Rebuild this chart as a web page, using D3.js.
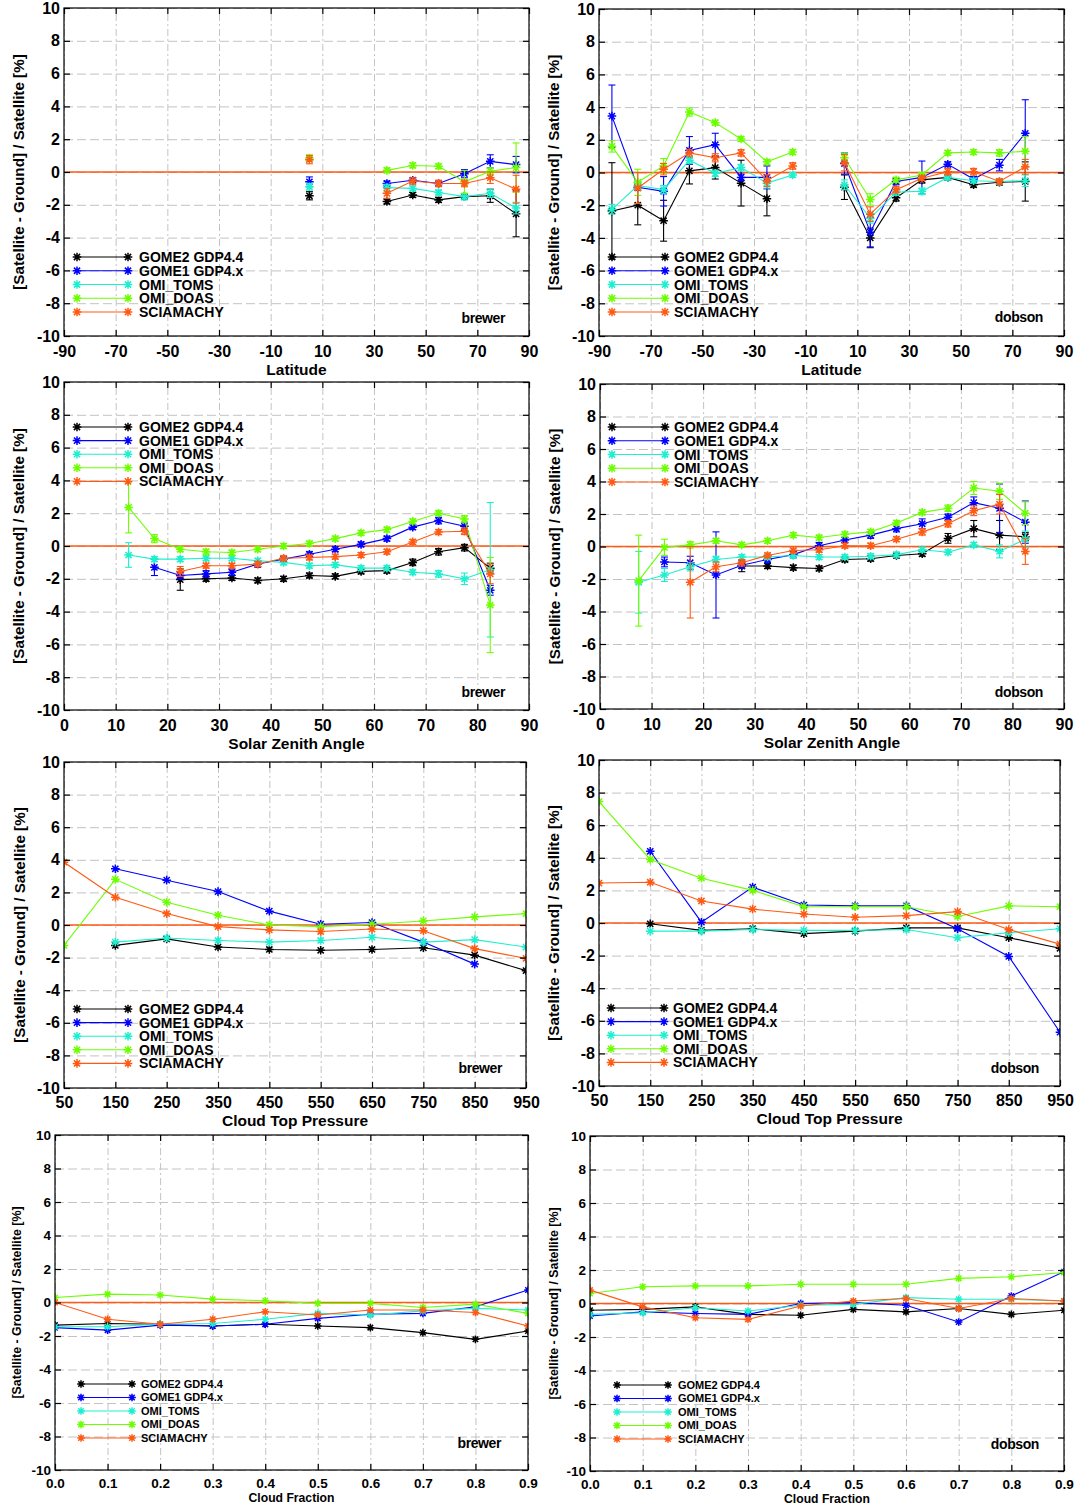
<!DOCTYPE html>
<html><head><meta charset="utf-8">
<script src="https://cdn.jsdelivr.net/npm/d3@7"></script>
<style>
body{margin:0;background:#fff}
svg{display:block}
text{font-family:"Liberation Sans",Arial,Helvetica,sans-serif;font-weight:bold;fill:#000}
</style>
</head><body>
<svg id="chart" width="1078" height="1507"></svg>
<script>
const _ = null;

const seriesNames = ["GOME2 GDP4.4", "GOME1 GDP4.x", "OMI_TOMS", "OMI_DOAS", "SCIAMACHY"];
const seriesColors = ["#000000", "#0000ff", "#1ef0cf", "#6cff00", "#ff5a14"];

const yTicks = [-10, -8, -6, -4, -2, 0, 2, 4, 6, 8, 10];

// ---------- Latitude ----------
const latBins = [-85, -75, -65, -55, -45, -35, -25, -15, -5, 5, 15, 25, 35, 45, 55, 65, 75, 85];
const latTicks = [-90, -70, -50, -30, -10, 10, 30, 50, 70, 90];

// brewer vs latitude
const brLat_GOME2 = [_,_,_,_,_,_,_,_,_,-1.45,_,_,-1.8,-1.4,-1.7,-1.5,-1.45,-2.55];
const brLat_GOME1 = [_,_,_,_,_,_,_,_,_,-0.6,_,_,-0.7,-0.5,-0.7,-0.1,0.65,0.45];
const brLat_TOMS  = [_,_,_,_,_,_,_,_,_,-0.9,_,_,-0.95,-1.0,-1.25,-1.5,-1.3,-2.2];
const brLat_DOAS  = [_,_,_,_,_,_,_,_,_,0.85,_,_,0.1,0.4,0.35,-0.6,0.05,0.27];
const brLat_SCIA  = [_,_,_,_,_,_,_,_,_,0.75,_,_,-1.3,-0.55,-0.7,-0.7,-0.35,-1.05];
const brLat_GOME2_err = [_,_,_,_,_,_,_,_,_,0.25,_,_,0.15,0.15,0.15,0.15,0.4,1.4];
const brLat_GOME1_err = [_,_,_,_,_,_,_,_,_,0.3,_,_,0.15,0.15,0.15,0.25,0.4,0.5];
const brLat_TOMS_err  = [_,_,_,_,_,_,_,_,_,0.2,_,_,0.2,0.15,0.15,0.2,0.25,0.35];
const brLat_DOAS_err  = [_,_,_,_,_,_,_,_,_,0.2,_,_,0.15,0.15,0.15,0.7,0.2,1.5];
const brLat_SCIA_err  = [_,_,_,_,_,_,_,_,_,0.25,_,_,0.3,0.2,0.2,0.2,0.35,0.85];

// dobson vs latitude
const dbLat_GOME2 = [-2.35,-2.0,-2.95,0.1,0.3,-0.65,-1.6,_,_,-0.9,-4.0,-1.55,-0.45,-0.3,-0.75,-0.6,-0.55,_];
const dbLat_GOME1 = [3.45,-0.9,-1.15,1.35,1.7,-0.3,-0.3,_,_,0.55,-3.65,-0.55,-0.3,0.5,-0.4,0.45,2.4,_];
const dbLat_TOMS  = [-2.25,-0.8,-1.05,0.75,-0.05,0.3,-0.65,-0.15,_,-0.75,-2.8,-1.2,-1.15,-0.3,-0.5,-0.55,-0.5,_];
const dbLat_DOAS  = [1.6,-0.6,0.4,3.7,3.05,2.05,0.65,1.25,_,0.9,-1.65,-0.45,-0.15,1.2,1.25,1.2,1.3,_];
const dbLat_SCIA  = [_,-0.95,0.2,1.2,0.9,1.2,-0.5,0.4,_,0.6,-2.55,-1.05,-0.35,0.05,0.05,-0.55,0.35,_];
const dbLat_GOME2_err = [2.95,1.2,1.25,0.8,0.7,1.4,1.05,_,_,0.75,0.6,0.2,0.2,0.15,0.15,0.15,1.2,_];
const dbLat_GOME1_err = [1.9,0.2,0.9,0.85,0.7,0.2,0.7,_,_,0.65,0.9,0.2,1.0,0.15,0.15,0.35,2.05,_];
const dbLat_TOMS_err  = [0.3,0.25,0.25,0.2,0.2,0.2,0.3,0.15,_,0.3,0.3,0.2,0.2,0.15,0.15,0.15,0.35,_];
const dbLat_DOAS_err  = [0.35,0.8,0.45,0.25,0.15,0.15,0.15,0.15,_,0.3,0.35,0.15,0.15,0.15,0.15,0.2,0.9,_];
const dbLat_SCIA_err  = [_,0.95,0.35,0.2,0.25,0.2,0.35,0.2,_,0.5,0.45,0.2,0.15,0.2,0.2,0.15,0.45,_];

// ---------- Solar zenith angle ----------
const szaBins = [7.5, 12.5, 17.5, 22.5, 27.5, 32.5, 37.5, 42.5, 47.5, 52.5, 57.5, 62.5, 67.5, 72.5, 77.5, 82.5];
const szaTicks = [0, 10, 20, 30, 40, 50, 60, 70, 80, 90];

const brSza_GOME2 = [_,_,_,-2.05,-2.0,-1.95,-2.1,-2.0,-1.8,-1.85,-1.55,-1.5,-1.0,-0.35,-0.1,-1.35];
const brSza_GOME1 = [_,_,-1.3,-1.8,-1.7,-1.6,-1.1,-0.8,-0.5,-0.2,0.1,0.45,1.15,1.55,1.2,-2.7];
const brSza_TOMS  = [_,-0.55,-0.8,-0.8,-0.75,-0.75,-0.9,-1.0,-1.2,-1.15,-1.35,-1.35,-1.6,-1.7,-2.0,-1.45];
const brSza_DOAS  = [_,2.35,0.45,-0.2,-0.35,-0.4,-0.2,0.0,0.15,0.45,0.8,1.0,1.5,2.0,1.65,-3.6];
const brSza_SCIA  = [_,_,_,-1.55,-1.2,-1.2,-1.1,-0.75,-0.7,-0.65,-0.55,-0.35,0.25,0.85,0.9,-1.7];
const brSza_GOME2_err = [_,_,_,0.65,0.15,0.15,0.15,0.15,0.15,0.15,0.15,0.15,0.2,0.2,0.2,0.3];
const brSza_GOME1_err = [_,_,0.5,0.2,0.2,0.2,0.2,0.15,0.15,0.15,0.15,0.15,0.15,0.2,0.25,0.3];
const brSza_TOMS_err  = [_,0.75,0.15,0.15,0.15,0.15,0.15,0.15,0.15,0.15,0.15,0.15,0.15,0.2,0.35,4.1];
const brSza_DOAS_err  = [_,1.55,0.25,0.15,0.15,0.15,0.15,0.15,0.15,0.15,0.15,0.15,0.15,0.15,0.2,2.9];
const brSza_SCIA_err  = [_,_,_,0.3,0.15,0.15,0.15,0.15,0.15,0.15,0.15,0.15,0.15,0.15,0.2,0.6];

const dbSza_GOME2 = [_,_,_,_,-1.2,-1.2,-1.3,-1.35,-0.8,-0.75,-0.55,-0.45,0.5,1.1,0.7,0.6];
const dbSza_GOME1 = [_,-0.95,-1.0,-1.75,-1.15,-0.8,-0.5,0.05,0.4,0.7,1.1,1.4,1.8,2.7,2.35,1.5];
const dbSza_TOMS  = [-2.2,-1.75,-1.25,-0.8,-0.65,-0.65,-0.55,-0.65,-0.65,-0.6,-0.5,-0.2,-0.35,0.1,-0.3,0.45];
const dbSza_DOAS  = [-2.1,-0.05,0.1,0.35,0.1,0.35,0.7,0.55,0.75,0.9,1.45,2.1,2.35,3.6,3.4,2.05];
const dbSza_SCIA  = [_,_,-2.2,-1.25,-1.0,-0.55,-0.25,-0.2,0.05,0.05,0.45,0.9,1.4,2.2,2.6,-0.3];
const dbSza_GOME2_err = [_,_,_,_,0.35,0.15,0.15,0.15,0.15,0.15,0.15,0.15,0.3,0.5,0.9,0.25];
const dbSza_GOME1_err = [_,0.3,0.4,2.65,0.2,0.2,0.2,0.2,0.15,0.2,0.2,0.3,0.2,0.35,1.5,1.3];
const dbSza_TOMS_err  = [1.9,0.4,0.25,0.2,0.15,0.15,0.15,0.15,0.15,0.15,0.15,0.15,0.15,0.15,0.4,0.5];
const dbSza_DOAS_err  = [2.8,0.5,0.2,0.15,0.15,0.15,0.15,0.15,0.15,0.15,0.15,0.15,0.2,0.4,0.5,0.7];
const dbSza_SCIA_err  = [_,_,2.2,0.3,0.2,0.15,0.15,0.15,0.15,0.15,0.15,0.2,0.2,0.3,0.6,0.8];

// ---------- Cloud top pressure ----------
const ctpBins = [50, 150, 250, 350, 450, 550, 650, 750, 850, 950];
const ctpTicks = [50, 150, 250, 350, 450, 550, 650, 750, 850, 950];

const brCtp_GOME2 = [_,-1.25,-0.85,-1.35,-1.5,-1.55,-1.5,-1.4,-1.85,-2.8];
const brCtp_GOME1 = [_,3.45,2.75,2.05,0.85,0.05,0.15,-1.05,-2.4,_];
const brCtp_TOMS  = [_,-1.05,-0.8,-0.95,-1.05,-0.95,-0.75,-1.05,-0.9,-1.35];
const brCtp_DOAS  = [-1.25,2.8,1.4,0.6,0.0,-0.1,0.05,0.25,0.5,0.7];
const brCtp_SCIA  = [3.85,1.7,0.7,-0.1,-0.3,-0.4,-0.25,-0.35,-1.45,-2.05];

const dbCtp_GOME2 = [_,-0.05,-0.45,-0.35,-0.65,-0.5,-0.3,-0.3,-0.9,-1.55];
const dbCtp_GOME1 = [_,4.4,0.05,2.2,1.1,1.05,1.05,-0.35,-2.05,-6.7];
const dbCtp_TOMS  = [_,-0.5,-0.5,-0.4,-0.45,-0.45,-0.4,-0.9,-0.6,-0.35];
const dbCtp_DOAS  = [7.45,3.9,2.75,2.0,1.0,1.0,1.0,0.4,1.05,1.0];
const dbCtp_SCIA  = [2.45,2.5,1.35,0.85,0.55,0.35,0.45,0.7,-0.4,-1.3];

// ---------- Cloud fraction ----------
const cfBins = [0.0, 0.1, 0.2, 0.3, 0.4, 0.5, 0.6, 0.7, 0.8, 0.9];
const cfTicks = [0.0, 0.1, 0.2, 0.3, 0.4, 0.5, 0.6, 0.7, 0.8, 0.9];

const brCf_GOME2 = [-1.35,-1.25,-1.3,-1.4,-1.3,-1.4,-1.5,-1.8,-2.2,-1.7];
const brCf_GOME1 = [-1.5,-1.65,-1.35,-1.4,-1.3,-0.95,-0.7,-0.65,-0.25,0.75];
const brCf_TOMS  = [-1.45,-1.45,-1.3,-1.25,-1.0,-0.65,-0.75,-0.5,-0.35,-0.45];
const brCf_DOAS  = [0.3,0.5,0.45,0.2,0.1,-0.05,-0.05,-0.3,-0.1,-0.65];
const brCf_SCIA  = [0.0,-1.0,-1.3,-1.0,-0.55,-0.75,-0.45,-0.45,-0.6,-1.4];

const dbCf_GOME2 = [-0.4,-0.35,-0.2,-0.65,-0.7,-0.35,-0.5,-0.3,-0.65,-0.4];
const dbCf_GOME1 = [-0.75,-0.5,-0.6,-0.65,0.0,0.05,-0.1,-1.1,0.45,1.9];
const dbCf_TOMS  = [-0.65,-0.55,-0.25,-0.45,-0.1,-0.05,0.35,0.25,0.25,0.15];
const dbCf_DOAS  = [0.6,1.0,1.05,1.05,1.15,1.15,1.15,1.5,1.6,1.85];
const dbCf_SCIA  = [0.8,-0.2,-0.85,-0.95,-0.15,0.15,0.3,-0.3,0.3,0.15];

// ---------- panel layout ----------
const big = {tick: 16, title: 15.5, legend: 14, station: 14, yTitle: 15.2, marker: 4.3};
const small = {tick: 13.5, title: 12.2, legend: 11, station: 14, yTitle: 12.4, marker: 3.8};

const panels = [
  {box:[64,529,8,336], bins:latBins, dom:[-90,90], ticks:latTicks, fmt:d=>String(d), xTitle:"Latitude", station:"brewer",
   series:[brLat_GOME2,brLat_GOME1,brLat_TOMS,brLat_DOAS,brLat_SCIA],
   errs:[brLat_GOME2_err,brLat_GOME1_err,brLat_TOMS_err,brLat_DOAS_err,brLat_SCIA_err],
   f:big, yTx:19, leg:[77,128,139,257,13.75], st:[24,13], tp:10, tt:38.5},
  {box:[599,1064,9,336], bins:latBins, dom:[-90,90], ticks:latTicks, fmt:d=>String(d), xTitle:"Latitude", station:"dobson",
   series:[dbLat_GOME2,dbLat_GOME1,dbLat_TOMS,dbLat_DOAS,dbLat_SCIA],
   errs:[dbLat_GOME2_err,dbLat_GOME1_err,dbLat_TOMS_err,dbLat_DOAS_err,dbLat_SCIA_err],
   f:big, yTx:554, leg:[612,665,674,257,13.75], st:[21,14], tp:10, tt:38.5},
  {box:[64,529,382,710], bins:szaBins, dom:[0,90], ticks:szaTicks, fmt:d=>String(d), xTitle:"Solar Zenith Angle", station:"brewer",
   series:[brSza_GOME2,brSza_GOME1,brSza_TOMS,brSza_DOAS,brSza_SCIA],
   errs:[brSza_GOME2_err,brSza_GOME1_err,brSza_TOMS_err,brSza_DOAS_err,brSza_SCIA_err],
   f:big, yTx:19, leg:[77,128,139,427,13.6], st:[24,13], tp:10, tt:38.5},
  {box:[600,1064,384,709], bins:szaBins, dom:[0,90], ticks:szaTicks, fmt:d=>String(d), xTitle:"Solar Zenith Angle", station:"dobson",
   series:[dbSza_GOME2,dbSza_GOME1,dbSza_TOMS,dbSza_DOAS,dbSza_SCIA],
   errs:[dbSza_GOME2_err,dbSza_GOME1_err,dbSza_TOMS_err,dbSza_DOAS_err,dbSza_SCIA_err],
   f:big, yTx:555, leg:[612,665,674,427,13.75], st:[21,12], tp:10, tt:38.5},
  {box:[64,526,762,1088], bins:ctpBins, dom:[50,950], ticks:ctpTicks, fmt:d=>String(d), xTitle:"Cloud Top Pressure", station:"brewer",
   series:[brCtp_GOME2,brCtp_GOME1,brCtp_TOMS,brCtp_DOAS,brCtp_SCIA], errs:null,
   f:big, yTx:20, leg:[77,128,139,1009,13.6], st:[24,15], tp:9, tt:37.5},
  {box:[599,1060,760,1086], bins:ctpBins, dom:[50,950], ticks:ctpTicks, fmt:d=>String(d), xTitle:"Cloud Top Pressure", station:"dobson",
   series:[dbCtp_GOME2,dbCtp_GOME1,dbCtp_TOMS,dbCtp_DOAS,dbCtp_SCIA], errs:null,
   f:big, yTx:554, leg:[611,664,673,1008,13.6], st:[21,13], tp:9, tt:37.5},
  {box:[55,528,1135,1470], bins:cfBins, dom:[0,0.9], ticks:cfTicks, fmt:d=>d.toFixed(1), xTitle:"Cloud Fraction", station:"brewer",
   series:[brCf_GOME2,brCf_GOME1,brCf_TOMS,brCf_DOAS,brCf_SCIA], errs:null,
   f:small, yTx:17, leg:[81,132,141,1384,13.5], st:[27,22], tp:8, tt:32},
  {box:[590,1064,1136,1471], bins:cfBins, dom:[0,0.9], ticks:cfTicks, fmt:d=>d.toFixed(1), xTitle:"Cloud Fraction", station:"dobson",
   series:[dbCf_GOME2,dbCf_GOME1,dbCf_TOMS,dbCf_DOAS,dbCf_SCIA], errs:null,
   f:small, yTx:554, leg:[617,668,678,1385,13.5], st:[25,22], tp:8, tt:32}
];

const svg = d3.select("#chart");

function starPath(r) {
  const d = r * 0.72;
  return `M${-r},0L${r},0M0,${-r}L0,${r}M${-d},${-d}L${d},${d}M${-d},${d}L${d},${-d}`;
}

panels.forEach((p, pi) => {
  const [x0, x1, y0, y1] = p.box;
  const x = d3.scaleLinear().domain(p.dom).range([x0, x1]);
  const y = d3.scaleLinear().domain([-10, 10]).range([y1, y0]);
  const g = svg.append("g");

  // grid
  g.append("g").attr("transform", `translate(0,${y1})`)
    .call(d3.axisBottom(x).tickValues(p.ticks).tickSize(-(y1 - y0)).tickFormat(""))
    .call(a => { a.select(".domain").remove();
      a.selectAll("line").attr("stroke", "#c3c3c3").attr("stroke-width", 1).attr("stroke-dasharray", "7,3,2,3"); });
  g.append("g").attr("transform", `translate(${x0},0)`)
    .call(d3.axisLeft(y).tickValues(yTicks).tickSize(-(x1 - x0)).tickFormat(""))
    .call(a => { a.select(".domain").remove();
      a.selectAll("line").attr("stroke", "#c3c3c3").attr("stroke-width", 1).attr("stroke-dasharray", "9,4"); });

  // clip
  const clipId = "clip" + pi;
  svg.append("clipPath").attr("id", clipId).append("rect")
    .attr("x", x0).attr("y", y0).attr("width", x1 - x0).attr("height", y1 - y0);
  const plot = g.append("g").attr("clip-path", `url(#${clipId})`);

  // zero line
  plot.append("line").attr("x1", x0).attr("x2", x1).attr("y1", y(0)).attr("y2", y(0))
    .attr("stroke", seriesColors[4]).attr("stroke-width", 1.3);

  const line = d3.line().defined(d => d.v !== null).x(d => x(d.b)).y(d => y(d.v));
  const r = p.f.marker;

  p.series.forEach((vals, si) => {
    const col = seriesColors[si];
    const pts = p.bins.map((b, i) => ({b, v: vals[i], e: p.errs ? p.errs[si][i] : null}));
    plot.append("path").datum(pts).attr("d", line)
      .attr("fill", "none").attr("stroke", col).attr("stroke-width", 1.1);
    const valid = pts.filter(d => d.v !== null);
    if (p.errs) {
      const eg = plot.append("g").attr("stroke", col).attr("stroke-width", 1.1);
      valid.filter(d => d.e !== null).forEach(d => {
        const cx = x(d.b), ya = y(d.v + d.e), yb = y(d.v - d.e);
        eg.append("line").attr("x1", cx).attr("x2", cx).attr("y1", ya).attr("y2", yb);
        eg.append("line").attr("x1", cx - 3.5).attr("x2", cx + 3.5).attr("y1", ya).attr("y2", ya);
        eg.append("line").attr("x1", cx - 3.5).attr("x2", cx + 3.5).attr("y1", yb).attr("y2", yb);
      });
    }
    plot.append("g").selectAll("path").data(valid).join("path")
      .attr("d", starPath(r))
      .attr("transform", d => `translate(${x(d.b)},${y(d.v)})`)
      .attr("fill", "none").attr("stroke", col).attr("stroke-width", 1.5);
  });

  // frame
  g.append("rect").attr("x", x0).attr("y", y0).attr("width", x1 - x0).attr("height", y1 - y0)
    .attr("fill", "none").attr("stroke", "#000").attr("stroke-width", 1.2);

  // ticks (inward) + labels
  const styleAxis = (a, fs) => {
    a.select(".domain").remove();
    a.selectAll("line").attr("stroke", "#000").attr("stroke-width", 1.2);
    a.selectAll("text").attr("font-size", fs).attr("font-family", null).attr("fill", "#000");
  };
  g.append("g").attr("transform", `translate(0,${y1})`)
    .call(d3.axisBottom(x).tickValues(p.ticks).tickSize(-6).tickPadding(p.tp).tickFormat(p.fmt))
    .call(a => styleAxis(a, p.f.tick));
  g.append("g").attr("transform", `translate(0,${y0})`)
    .call(d3.axisTop(x).tickValues(p.ticks).tickSize(-6).tickFormat(""))
    .call(a => styleAxis(a, p.f.tick));
  g.append("g").attr("transform", `translate(${x0},0)`)
    .call(d3.axisLeft(y).tickValues(yTicks).tickSize(-6).tickPadding(4).tickFormat(d => String(d)))
    .call(a => styleAxis(a, p.f.tick));
  g.append("g").attr("transform", `translate(${x1},0)`)
    .call(d3.axisRight(y).tickValues(yTicks).tickSize(-6).tickFormat(""))
    .call(a => styleAxis(a, p.f.tick));

  // titles
  g.append("text").attr("x", (x0 + x1) / 2).attr("y", y1 + p.tt)
    .attr("text-anchor", "middle").attr("font-size", p.f.title).text(p.xTitle);
  g.append("text").attr("transform", `translate(${p.yTx},${(y0 + y1) / 2}) rotate(-90)`)
    .attr("dy", "0.36em").attr("text-anchor", "middle").attr("font-size", p.f.yTitle)
    .text("[Satellite - Ground] / Satellite [%]");

  // station label
  g.append("text").attr("x", x1 - p.st[0]).attr("y", y1 - p.st[1])
    .attr("text-anchor", "end").attr("font-size", p.f.station).attr("letter-spacing", -0.4)
    .text(p.station);

  // legend
  const [lx0, lx1, ltx, ly0, lstep] = p.leg;
  seriesNames.forEach((name, si) => {
    const ly = ly0 + si * lstep;
    const col = seriesColors[si];
    g.append("line").attr("x1", lx0).attr("x2", lx1).attr("y1", ly).attr("y2", ly)
      .attr("stroke", col).attr("stroke-width", 1.1);
    [lx0, lx1].forEach(mx => g.append("path").attr("d", starPath(r))
      .attr("transform", `translate(${mx},${ly})`)
      .attr("fill", "none").attr("stroke", col).attr("stroke-width", 1.5));
    g.append("text").attr("x", ltx).attr("y", ly).attr("dy", "0.36em")
      .attr("font-size", p.f.legend).text(name);
  });
});
</script>
</body></html>
